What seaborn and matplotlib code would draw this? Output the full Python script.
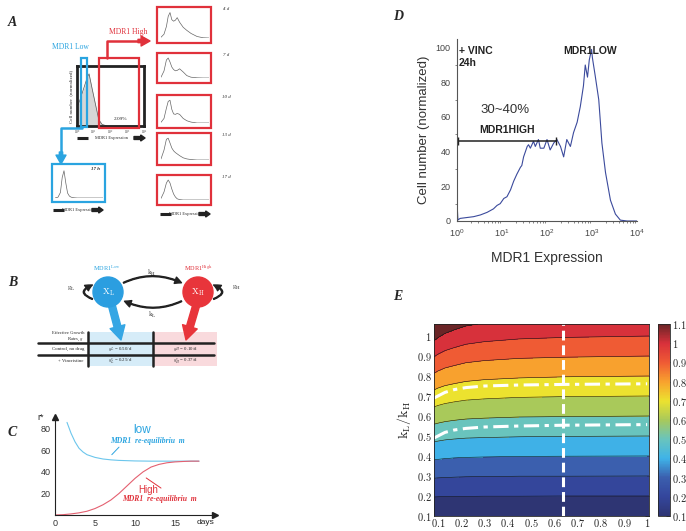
import numpy as np
import matplotlib
matplotlib.use("Agg")
import matplotlib.pyplot as plt
import seaborn as sns
from matplotlib.patches import Rectangle, Circle, FancyArrowPatch
from matplotlib.colors import LinearSegmentedColormap, Normalize
from matplotlib.ticker import FuncFormatter, FixedLocator

sns.set_style("white")
plt.rcParams['font.family'] = ['Liberation Sans', 'DejaVu Sans']
plt.rcParams['mathtext.fontset'] = 'cm'

W, H = 686, 531
SERIF = ['Liberation Serif', 'DejaVu Serif']
BLUE = '#2aa4e0'
RED = '#e0313b'

# ============================================================================
# DATA
# ============================================================================

# --- panel A: flow histograms (x = log10 MDR1 expression) ---
central_logx = [0, 0.2, 0.4, 0.6, 0.72, 0.9, 1.1, 1.3, 1.5, 1.8, 2.2, 4.0]
central_counts = [35, 52, 72, 92, 100, 72, 42, 12, 3, 0, 0, 0]
central_pct = '2.09%'

hist_logx = [0, 0.25, 0.45, 0.6, 0.75, 0.9, 1.05, 1.2, 1.35, 1.55, 1.85, 2.15, 2.5, 3.0, 3.5, 4.0]
hist_4d = [3, 15, 45, 85, 100, 72, 66, 70, 80, 62, 42, 30, 18, 6, 1, 0]
hist_7d = [4, 35, 90, 100, 80, 55, 42, 36, 38, 46, 30, 12, 4, 1, 0, 0]
hist_10d = [3, 20, 65, 95, 100, 60, 40, 38, 42, 38, 20, 10, 4, 0, 0, 0]
hist_13d = [5, 45, 95, 100, 78, 55, 42, 34, 28, 20, 10, 5, 2, 0, 0, 0]
hist_17d = [8, 40, 85, 100, 85, 55, 30, 15, 6, 2, 0, 0, 0, 0, 0, 0]
hist_17h = [0, 3, 20, 75, 100, 55, 18, 7, 3, 1, 0, 0, 0, 0, 0, 0]
high_labels = ['4 d', '7 d', '10 d', '13 d', '17 d']

# --- panel B: growth rate table ---
table_rows = ['Control, no drug', '+ Vincristine']
table_low = [r'$g_L$ = 0.50/d', r'$g_L^v$ = 0.25/d']
table_high = [r'$g_H$ = 0.10/d', r'$g_H^v$ = 0.37/d']

# --- panel C: re-equilibration curves ---
c_low_t = [1.5, 2, 2.5, 3, 3.5, 4, 5, 6, 7, 8, 10, 12, 15, 18]
c_low_r = [86, 76, 68, 62, 58.5, 56, 53.5, 52, 51.2, 50.7, 50.2, 50, 50, 50]
c_high_t = [0, 1, 2, 3, 4, 5, 6, 7, 8, 9, 10, 11, 12, 13, 14, 15, 16, 17, 18]
c_high_r = [0, 0.3, 1, 2, 3.5, 6, 9.5, 14, 20, 27, 34, 40, 44.5, 47, 48.5, 49.3, 49.7, 50, 50]

# --- panel D: vincristine 24h histogram ---
d_logx = [0, 0.02, 0.07, 0.22, 0.37, 0.52, 0.67, 0.81, 0.89, 0.96, 1.04, 1.11, 1.19,
          1.26, 1.33, 1.41, 1.44, 1.48, 1.56, 1.59, 1.63, 1.70, 1.74, 1.81, 1.85,
          1.93, 2.0, 2.07, 2.15, 2.22, 2.30, 2.37, 2.44, 2.52, 2.59, 2.67, 2.74,
          2.81, 2.85, 2.90, 2.94, 2.99, 3.01, 3.07, 3.15, 3.22, 3.30, 3.41, 3.52,
          3.63, 3.78, 4.0]
d_counts = [11, 0.6, 1.5, 2, 2.5, 3.5, 5, 7, 9, 10, 13, 14, 18,
            23, 27, 31, 32, 37, 43, 44, 42, 46, 43, 47, 42,
            42, 47, 41, 45, 47, 43, 37, 47, 43, 51, 57, 66,
            78, 90, 83, 93, 99, 94, 84, 70, 45, 28, 12, 4,
            0.5, 0, 0]
d_gate = (1.05, 160, 46)   # x start, x end, height of MDR1 HIGH gate

# --- panel E: k_L/k_H contour field ---
e_x = [0.083, 0.1, 0.13, 0.17, 0.22, 0.3, 0.45, 0.65, 1.008]
e_y = [0.1, 0.2, 0.3, 0.4, 0.5, 0.6, 0.7, 0.8, 0.9, 1.0, 1.06]
e_field = [
    [0.101, 0.101, 0.101, 0.101, 0.100, 0.100, 0.100, 0.100, 0.100],
    [0.205, 0.204, 0.203, 0.203, 0.202, 0.201, 0.201, 0.200, 0.200],
    [0.312, 0.310, 0.308, 0.306, 0.304, 0.303, 0.301, 0.301, 0.300],
    [0.421, 0.418, 0.414, 0.410, 0.407, 0.405, 0.402, 0.401, 0.400],
    [0.533, 0.528, 0.521, 0.516, 0.511, 0.508, 0.504, 0.502, 0.500],
    [0.647, 0.640, 0.631, 0.623, 0.616, 0.611, 0.605, 0.603, 0.600],
    [0.764, 0.754, 0.742, 0.732, 0.722, 0.715, 0.707, 0.703, 0.700],
    [0.883, 0.870, 0.854, 0.842, 0.829, 0.819, 0.810, 0.804, 0.800],
    [1.005, 0.989, 0.969, 0.953, 0.936, 0.924, 0.912, 0.906, 0.900],
    [1.130, 1.110, 1.085, 1.065, 1.045, 1.030, 1.015, 1.007, 1.000],
    [1.206, 1.184, 1.156, 1.133, 1.111, 1.094, 1.077, 1.068, 1.060],
]
e_levels = [0.1, 0.2, 0.3, 0.4, 0.5, 0.6, 0.7, 0.8, 0.9, 1.0, 1.1]
e_dash_x = [0.083, 0.1, 0.13, 0.17, 0.22, 0.3, 0.45, 0.65, 1.0]
e_upper_y = [0.69, 0.70, 0.718, 0.732, 0.742, 0.750, 0.755, 0.758, 0.761]
e_lower_y = [0.49, 0.50, 0.518, 0.530, 0.538, 0.545, 0.550, 0.554, 0.557]
e_vline_x = 0.64
e_colors = ['#2e3573', '#34469c', '#3b5fae', '#3fb3e8', '#69c4bd', '#a8c95b',
            '#ece22f', '#f8a22e', '#ef5b34', '#d9313b', '#6b2527']


def px_box(x0, y0, x1, y1):
    return [x0 / W, 1 - y1 / H, (x1 - x0) / W, (y1 - y0) / H]


fig = plt.figure(figsize=(6.86, 5.31), dpi=100)

# ============================================================================
# PANEL A - histograms
# ============================================================================
ax_c = fig.add_axes(px_box(77, 66, 144, 126))
ax_c.fill_between(central_logx, central_counts, color='#d6d6d6', lw=0)
sns.lineplot(x=central_logx, y=central_counts, ax=ax_c, color='#555555', lw=0.5)
ax_c.set_xlim(0, 4)
ax_c.set_ylim(0, 115)
ax_c.set_xticks(range(5))
ax_c.set_xticklabels([rf'$10^{i}$' for i in range(5)])
ax_c.set_yticks([0, 25, 50, 75, 100])
ax_c.set_yticklabels([])
ax_c.tick_params(labelsize=2.5, length=1.5, width=0.4, pad=0.5)
for s in ax_c.spines.values():
    s.set_linewidth(2)
    s.set_color('#222222')
ax_c.set_xlabel('')
ax_c.set_ylabel('Cell number  (normalized)', fontsize=3.6, family=SERIF, labelpad=1)
ax_c.text(2.6, 12, central_pct, fontsize=3.8, family=SERIF, ha='center')

red_box_y = [(7, 43), (53, 83), (95, 128), (133, 165), (175, 205)]
for (y0, y1), counts in zip(red_box_y, [hist_4d, hist_7d, hist_10d, hist_13d, hist_17d]):
    a = fig.add_axes(px_box(161, y0 + 3, 209, y1 - 5))
    sns.lineplot(x=hist_logx, y=counts, ax=a, color='#666666', lw=0.5)
    a.set_xlim(0, 4)
    a.set_ylim(0, 110)
    a.set_xticks(range(5))
    a.set_xticklabels([])
    a.set_yticks([])
    a.tick_params(axis='x', length=1.2, width=0.4)
    a.set_xlabel('')
    a.set_ylabel('')
    for s in a.spines.values():
        s.set_visible(False)

a = fig.add_axes(px_box(55, 168, 103, 198))
sns.lineplot(x=hist_logx, y=hist_17h, ax=a, color='#666666', lw=0.5)
a.set_xlim(0, 4)
a.set_ylim(0, 110)
a.set_xticks(range(5))
a.set_xticklabels([])
a.set_yticks([])
a.tick_params(axis='x', length=1.2, width=0.4)
a.set_xlabel('')
a.set_ylabel('')
for s in a.spines.values():
    s.set_visible(False)

# ============================================================================
# PANEL C - re-equilibration
# ============================================================================
ax_C = fig.add_axes(px_box(55, 417, 215, 515))
sns.lineplot(x=c_low_t, y=c_low_r, ax=ax_C, color='#6cc6ec', lw=0.8)
sns.lineplot(x=c_high_t, y=c_high_r, ax=ax_C, color='#e46070', lw=0.8)
ax_C.set_xlim(0, 20)
ax_C.set_ylim(0, 91)
sns.despine(ax=ax_C)
for s in ['left', 'bottom']:
    ax_C.spines[s].set_linewidth(0.8)
    ax_C.spines[s].set_color('#222222')
ax_C.set_xticks([0, 5, 10, 15])
ax_C.set_yticks([20, 40, 60, 80])
ax_C.tick_params(labelsize=6.5, length=2, width=0.6, pad=1, colors='#333333')
ax_C.set_xlabel('')
ax_C.set_ylabel('')
ax_C.plot(1, 0, '>', color='#222222', ms=4, transform=ax_C.get_yaxis_transform(), clip_on=False)
ax_C.plot(0, 1, '^', color='#222222', ms=4, transform=ax_C.get_xaxis_transform(), clip_on=False)
ax_C.text(-0.07, 1.0, 'r*', transform=ax_C.transAxes, fontsize=6.5, ha='right', va='center')
ax_C.text(0.94, -0.075, 'days', transform=ax_C.transAxes, fontsize=6, ha='center', va='center')
ax_C.text(10.9, 79, 'low', color=BLUE, fontsize=8.5, ha='center', va='center')
ax_C.text(11.5, 69, 'MDR1  re-equilibriu  m', color=BLUE, fontsize=5.5, family=SERIF,
          weight='bold', style='italic', ha='center', va='center')
ax_C.plot([7.1, 8.0], [56, 63], color=BLUE, lw=0.7)
ax_C.text(11.6, 23, 'High', color=RED, fontsize=7, ha='center', va='center')
ax_C.text(13.1, 14.5, 'MDR1  re-equilibriu  m', color=RED, fontsize=5.5, family=SERIF,
          weight='bold', style='italic', ha='center', va='center')
ax_C.plot([11.4, 13.25], [34.4, 25], color=RED, lw=0.7)

# ============================================================================
# PANEL D - vincristine histogram
# ============================================================================
ax_D = fig.add_axes(px_box(457, 39, 637, 221))
sns.lineplot(x=10 ** np.array(d_logx), y=d_counts, ax=ax_D, color='#3b4a9c', lw=0.8)
ax_D.set_xscale('log')
ax_D.set_xlim(1, 1e4)
ax_D.set_ylim(0, 105)
sns.despine(ax=ax_D)
for s in ['left', 'bottom']:
    ax_D.spines[s].set_linewidth(0.8)
    ax_D.spines[s].set_color('#555555')
ax_D.set_yticks([0, 20, 40, 60, 80, 100])
ax_D.yaxis.set_minor_locator(FixedLocator(np.arange(0, 105, 10)))
ax_D.tick_params(which='major', labelsize=6.5, length=3, width=0.6, pad=1.5, colors='#444444')
ax_D.tick_params(which='minor', length=1.5, width=0.5, colors='#555555', left=True, bottom=True)
ax_D.set_xlabel('MDR1 Expression', fontsize=10, color='#333333', labelpad=9)
ax_D.set_ylabel('Cell number (normalized)', fontsize=9.5, color='#333333', labelpad=4)
ax_D.plot([d_gate[0], d_gate[1]], [d_gate[2], d_gate[2]], color='#222222', lw=1.1,
          marker='|', ms=6, mew=1)
ax_D.text(1.1, 101, '+ VINC\n24h', fontsize=7.5, weight='bold', va='top', ha='left',
          linespacing=1.3, color='#222222')
ax_D.text(10 ** 2.95, 101, 'MDR1LOW', fontsize=7.5, weight='bold', va='top', ha='center',
          color='#222222')
ax_D.text(10 ** 1.07, 64, '30~40%', fontsize=9.5, va='center', ha='center', color='#333333')
ax_D.text(10 ** 1.11, 52.5, 'MDR1HIGH', fontsize=7.5, weight='bold', va='center', ha='center',
          color='#222222')

# ============================================================================
# PANEL E - contour map
# ============================================================================
e_cmap = LinearSegmentedColormap.from_list('muted_jet', e_colors)
e_norm = Normalize(0.1, 1.1)
band_colors = [e_cmap(e_norm(v)) for v in e_levels]

ax_E = fig.add_axes(px_box(434, 324, 649, 516))
ax_E.contourf(e_x, e_y, e_field, levels=e_levels + [1.4], colors=band_colors)
ax_E.contour(e_x, e_y, e_field, levels=e_levels, colors='#111111', linewidths=0.4)
ax_E.plot(e_dash_x, e_upper_y, color='white', lw=2.2, dashes=[5.0, 1.8, 1.4, 1.8])
ax_E.plot(e_dash_x, e_lower_y, color='white', lw=2.2, dashes=[5.0, 1.8, 1.4, 1.8])
ax_E.axvline(e_vline_x, color='white', lw=2.2, dashes=[3.2, 1.6])
ax_E.set_xlim(0.083, 1.008)
ax_E.set_ylim(0.1, 1.06)
ax_E.set_xticks(e_levels[:-1])
ax_E.set_yticks(e_levels[:-1])
fmt = FuncFormatter(lambda v, p: f'${v:g}$')
ax_E.xaxis.set_major_formatter(fmt)
ax_E.yaxis.set_major_formatter(fmt)
ax_E.tick_params(direction='in', top=True, right=True, length=3, width=0.5,
                 labelsize=7.5, pad=1.5, colors='#222222')
ax_E.tick_params(axis='x', pad=0.8)
for s in ax_E.spines.values():
    s.set_linewidth(0.6)
    s.set_color('#222222')
ax_E.set_ylabel(r'$\mathrm{k_L/k_H}$', fontsize=10, labelpad=3)

cax = fig.add_axes(px_box(658, 324, 670, 516))
sm = plt.cm.ScalarMappable(norm=e_norm, cmap=e_cmap)
cb = fig.colorbar(sm, cax=cax, ticks=e_levels)
cb.ax.yaxis.set_major_formatter(fmt)
cb.ax.tick_params(direction='in', length=3, width=0.5, labelsize=7.5, pad=1.5)
cb.outline.set_linewidth(0.6)

# ============================================================================
# OVERLAY - schematic elements, boxes, arrows, labels
# ============================================================================
ov = fig.add_axes([0, 0, 1, 1], zorder=10)
ov.set_xlim(0, W)
ov.set_ylim(H, 0)
ov.axis('off')


def panel_label(x, y, s):
    ov.text(x, y, s, fontsize=10, family=SERIF, weight='bold', style='italic',
            ha='left', va='center')


for x, y, s in [(8, 22, 'A'), (8, 283, 'B'), (8, 433, 'C'), (393, 17, 'D'), (393, 296, 'E')]:
    panel_label(x, y, s)


def expr_label(x0, x1, y):
    ov.plot([x0, x0 + 11], [y, y], color='#222222', lw=2.2, solid_capstyle='butt')
    ov.text((x0 + x1) / 2, y, 'MDR1 Expression', fontsize=3.2, family=SERIF,
            ha='center', va='center')
    ov.add_patch(FancyArrowPatch((x1 - 11, y), (x1, y), arrowstyle='simple,head_length=0.5,head_width=0.7,tail_width=0.35',
                                 mutation_scale=6, color='#222222', shrinkA=0, shrinkB=0))


# panel A boxes and arrows
ov.add_patch(Rectangle((80.5, 58), 6.5, 69, fill=False, ec=BLUE, lw=1.6))
ov.add_patch(Rectangle((99, 58), 40, 70, fill=False, ec=RED, lw=1.6))
for y0, y1 in red_box_y:
    ov.add_patch(Rectangle((157, y0), 54, y1 - y0, fill=False, ec=RED, lw=1.6))
ov.add_patch(Rectangle((52, 164), 53, 38, fill=False, ec=BLUE, lw=1.6))
ov.plot([107, 107, 140], [58, 41, 41], color=RED, lw=1.8)
ov.add_patch(FancyArrowPatch((138, 41), (150, 41), arrowstyle='simple,head_length=0.8,head_width=0.9,tail_width=0.3',
                             mutation_scale=8, color=RED, shrinkA=0, shrinkB=0))
ov.plot([82, 61, 61], [128, 128, 154], color=BLUE, lw=1.8)
ov.add_patch(FancyArrowPatch((61, 152), (61, 164), arrowstyle='simple,head_length=0.8,head_width=0.9,tail_width=0.3',
                             mutation_scale=8, color=BLUE, shrinkA=0, shrinkB=0))
ov.text(52, 47, 'MDR1 Low', color=BLUE, fontsize=5.5, family=SERIF, va='center', ha='left')
ov.text(109, 32, 'MDR1 High', color=RED, fontsize=5.5, family=SERIF, va='center', ha='left')
for (y0, y1), lab in zip(red_box_y, high_labels):
    ov.text(226, y0 + 2, lab, fontsize=3.5, family=SERIF, style='italic', ha='center', va='center')
ov.text(100, 169, '17 h', fontsize=3.5, family=SERIF, style='italic', weight='bold',
        ha='right', va='center')
expr_label(77, 145, 138)
expr_label(53, 103, 210)
expr_label(160, 210, 214)

# panel B schematic
ov.add_patch(Circle((108, 292), 15, color='#2b9ee0', zorder=3))
ov.add_patch(Circle((198, 292), 15, color='#e8353b', zorder=3))
ov.text(108, 292, r'$\mathrm{X_L}$', color='white', fontsize=6.5, ha='center', va='center', zorder=4)
ov.text(198, 292, r'$\mathrm{X_H}$', color='white', fontsize=6.5, ha='center', va='center', zorder=4)
ov.text(107, 268, r'MDR1$^{\mathrm{Low}}$', color=BLUE, fontsize=4.5, family=SERIF, ha='center', va='center')
ov.text(198, 268, r'MDR1$^{\mathrm{High}}$', color=RED, fontsize=4.5, family=SERIF, ha='center', va='center')
arc_style = 'simple,head_length=0.6,head_width=0.6,tail_width=0.08'
ov.add_patch(FancyArrowPatch((121, 284), (184, 284), connectionstyle='arc3,rad=-0.25',
                             arrowstyle=arc_style, mutation_scale=8, color='#222222'))
ov.add_patch(FancyArrowPatch((184, 300), (122, 300), connectionstyle='arc3,rad=-0.25',
                             arrowstyle=arc_style, mutation_scale=8, color='#222222'))
ov.add_patch(FancyArrowPatch((95, 300), (95, 284), connectionstyle='arc3,rad=-1.4',
                             arrowstyle=arc_style, mutation_scale=8, color='#222222'))
ov.add_patch(FancyArrowPatch((211, 300), (211, 284), connectionstyle='arc3,rad=1.4',
                             arrowstyle=arc_style, mutation_scale=8, color='#222222'))
ov.text(152, 273, r'$\mathrm{k_H}$', fontsize=5, ha='center', va='center')
ov.text(152, 315, r'$\mathrm{k_L}$', fontsize=5, ha='center', va='center')
ov.text(71, 289, r'$\mathrm{g_L}$', fontsize=5, ha='center', va='center')
ov.text(237, 288, r'$\mathrm{g_H}$', fontsize=5, ha='center', va='center')

ov.add_patch(Rectangle((88, 332), 65, 34, color='#d6ecf8', lw=0, zorder=1))
ov.add_patch(Rectangle((153, 332), 64, 34, color='#f9dadd', lw=0, zorder=1))
thick = 'simple,head_length=0.9,head_width=1.0,tail_width=0.45'
ov.add_patch(FancyArrowPatch((112, 306), (121, 340), arrowstyle=thick, mutation_scale=11,
                             color='#35a6e4', shrinkA=0, shrinkB=0, zorder=2))
ov.add_patch(FancyArrowPatch((196, 306), (186, 340), arrowstyle=thick, mutation_scale=11,
                             color='#e8353b', shrinkA=0, shrinkB=0, zorder=2))
for y in [343, 355]:
    ov.plot([38, 214], [y, y], color='#222222', lw=1.8, zorder=3)
for x in [87.5, 153]:
    ov.plot([x, x], [332, 366], color='#222222', lw=1.8, zorder=3)
ov.text(84, 337, 'Effective Growth\nRates, $g$', fontsize=3.3, family=SERIF, ha='right',
        va='center', linespacing=1.0, zorder=4)
for y, lab, lo, hi in zip([349, 361], table_rows, table_low, table_high):
    ov.text(84, y, lab, fontsize=3.5, family=SERIF, ha='right', va='center', zorder=4)
    ov.text(120, y, lo, fontsize=3.5, family=SERIF, ha='center', va='center', zorder=4)
    ov.text(185, y, hi, fontsize=3.5, family=SERIF, ha='center', va='center', zorder=4)

fig.savefig('out.png', dpi=100)
